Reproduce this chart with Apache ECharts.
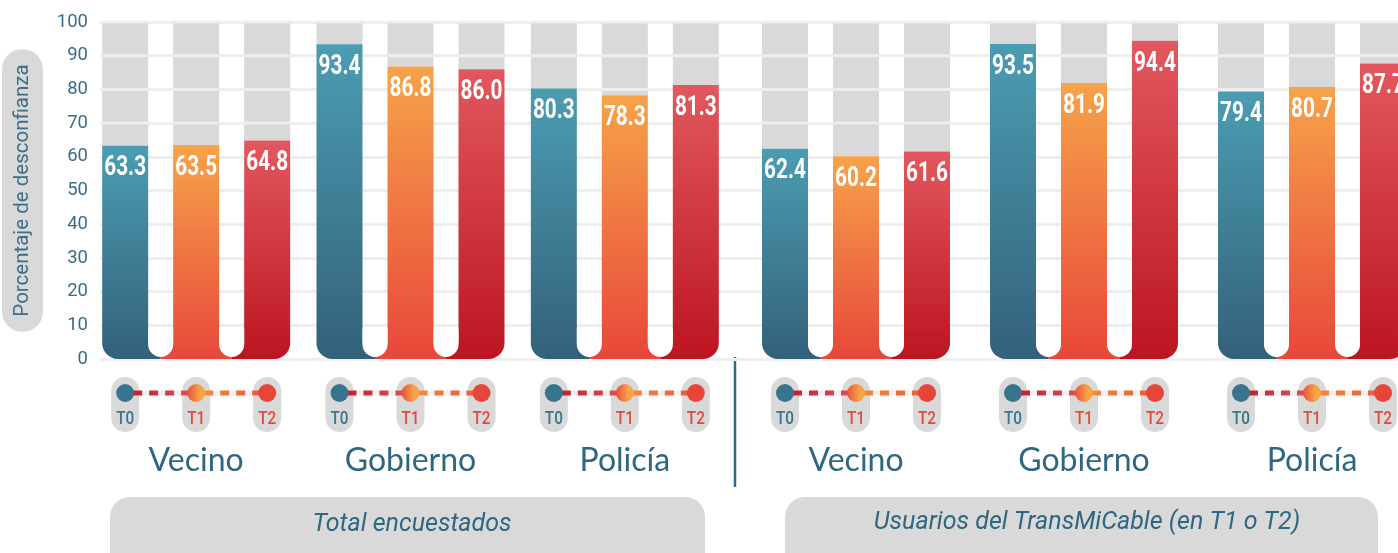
<!DOCTYPE html>
<html>
<head>
<meta charset="utf-8">
<script src="https://cdn.jsdelivr.net/npm/echarts@6/dist/echarts.min.js"></script>
<style>
html,body{margin:0;padding:0;background:#ffffff;}
#c{width:1398px;height:553px;}
</style>
</head>
<body>
<div id="c"></div>
<script>
// ---------- data ----------
const categories = ['Vecino', 'Gobierno', 'Policía'];
const periods = ['T0', 'T1', 'T2'];
const totalT0 = [63.3, 93.4, 80.3];
const totalT1 = [63.5, 86.8, 78.3];
const totalT2 = [64.8, 86.0, 81.3];
const usersT0 = [62.4, 93.5, 79.4];
const usersT1 = [60.2, 81.9, 80.7];
const usersT2 = [61.6, 94.4, 87.7];
const yTicks = [0, 10, 20, 30, 40, 50, 60, 70, 80, 90, 100];
const panelTitles = ['Total encuestados', 'Usuarios del TransMiCable (en T1 o T2)'];
const yAxisName = 'Porcentaje de desconfianza';

// ---------- styles ----------
const TRACK = '#d9d9d9';
const GRIDC = '#eeeeee';
const BAR_TOP = ['#4b9db2', '#f6a34a', '#e2585e'];
const BAR_BOTTOM = ['#33617a', '#e8473a', '#bc1521'];
const MARK_TEXT = ['#37758f', '#e44a3b', '#e5473b'];
const NAVY = '#2f6680';

function renderPanel(params, api) {
  const ci = api.value(0);
  const vals = [api.value(1), api.value(2), api.value(3)];
  const base = api.coord([ci, 0]);
  const cx = base[0], by = base[1];
  const yTop = api.coord([ci, yTicks[yTicks.length - 1]])[1];
  const W = 46, P = 71, R = 16, G = P - W;
  const xs = periods.map((p, k) => cx + (k - 1) * P);
  const ch = [];
  // grey tracks with grid lines over them
  vals.forEach((v, k) => {
    const vy = api.coord([ci, v])[1];
    ch.push({type: 'rect', shape: {x: xs[k] - W / 2, y: yTop, width: W, height: vy - yTop}, style: {fill: TRACK}});
    yTicks.forEach(t => {
      if (t > v) {
        const ty = api.coord([ci, t])[1];
        ch.push({type: 'line', shape: {x1: xs[k] - W / 2, y1: ty, x2: xs[k] + W / 2, y2: ty}, style: {stroke: GRIDC, lineWidth: 3}});
      }
    });
  });
  // bottom joins between bars
  for (let k = 0; k < 2; k++) {
    const gx = xs[k] + W / 2;
    ch.push({type: 'rect', shape: {x: gx - 1, y: by - R, width: G / 2 + 1, height: R}, style: {fill: BAR_BOTTOM[k]}});
    ch.push({type: 'rect', shape: {x: gx + G / 2, y: by - R, width: G / 2 + 1, height: R}, style: {fill: BAR_BOTTOM[k + 1]}});
  }
  // bars
  vals.forEach((v, k) => {
    const vy = api.coord([ci, v])[1];
    ch.push({
      type: 'rect',
      shape: {x: xs[k] - W / 2, y: vy, width: W, height: by - vy, r: k === 0 ? [0, 0, 0, R] : (k === 2 ? [0, 0, R, 0] : 0)},
      style: {fill: {type: 'linear', x: 0, y: 0, x2: 0, y2: 1, colorStops: [{offset: 0, color: BAR_TOP[k]}, {offset: 1, color: BAR_BOTTOM[k]}]}}
    });
  });
  // white rounded gaps
  for (let k = 0; k < 2; k++) {
    ch.push({type: 'rect', shape: {x: xs[k] + W / 2, y: by - 30, width: G, height: 28, r: [0, 0, G / 2, G / 2]}, style: {fill: '#ffffff'}});
  }
  // value labels (condensed look via horizontal scale)
  vals.forEach((v, k) => {
    const vy = api.coord([ci, v])[1];
    ch.push({type: 'text', x: xs[k], y: vy + 23, scaleX: 0.77,
      style: {text: v.toFixed(1), x: 0, y: 0, align: 'center', verticalAlign: 'middle',
        fill: '#ffffff', fontSize: 27, fontWeight: 'bold', fontFamily: 'Roboto'}});
  });
  // period markers below
  const cy = by + 34;
  periods.forEach((p, k) => {
    ch.push({type: 'rect', shape: {x: xs[k] - 14, y: by + 18, width: 28, height: 55, r: 14}, style: {fill: TRACK}});
  });
  const segColors = [
    [{offset: 0, color: '#c21d2a'}, {offset: 1, color: '#df4f55'}],
    [{offset: 0, color: '#f28a42'}, {offset: 1, color: '#ea5a3c'}]
  ];
  for (let k = 0; k < 2; k++) {
    ch.push({type: 'line', shape: {x1: xs[k] + 8, y1: cy, x2: xs[k + 1] - 8, y2: cy}, style: {stroke: '#efefef', lineWidth: 5}});
    ch.push({type: 'line', shape: {x1: xs[k] + 8, y1: cy, x2: xs[k + 1] - 8, y2: cy},
      style: {stroke: {type: 'linear', x: 0, y: 0, x2: 1, y2: 0, colorStops: segColors[k]}, lineWidth: 5, lineDash: [9, 7]}});
  }
  const circFill = [
    '#37758f',
    {type: 'linear', x: 0, y: 0, x2: 1, y2: 0, colorStops: [{offset: 0, color: '#e9503c'}, {offset: 0.7, color: '#f7a448'}, {offset: 1, color: '#f7a448'}]},
    '#e8453a'
  ];
  periods.forEach((p, k) => {
    ch.push({type: 'circle', shape: {cx: xs[k], cy: cy, r: 9}, style: {fill: circFill[k]}});
    ch.push({type: 'text', x: xs[k], y: by + 60, scaleX: 0.85,
      style: {text: p, x: 0, y: 0, align: 'center', verticalAlign: 'middle',
        fill: MARK_TEXT[k], fontSize: 18, fontWeight: 500, fontFamily: 'Roboto'}});
  });
  return {type: 'group', children: ch};
}

const catAxis = (gi) => ({
  gridIndex: gi, type: 'category', data: categories,
  axisLine: {show: false}, axisTick: {show: false}, splitLine: {show: false},
  axisLabel: {margin: 86, fontFamily: 'Lato', fontSize: 32, color: NAVY, lineHeight: 32}
});
const hiddenY = (gi) => ({gridIndex: gi, type: 'value', min: 0, max: 100, interval: 10, show: false, splitLine: {show: false}});

const chart = echarts.init(document.getElementById('c'), null, {renderer: 'canvas'});
chart.setOption({
  animation: false,
  backgroundColor: '#ffffff',
  grid: [
    {left: 100, width: 1298, top: 22, height: 337, containLabel: false, outerBoundsMode: 'none'},
    {left: 89, width: 643, top: 22, height: 337, containLabel: false, outerBoundsMode: 'none'},
    {left: 742, width: 684, top: 22, height: 337, containLabel: false, outerBoundsMode: 'none'}
  ],
  xAxis: [
    {gridIndex: 0, type: 'value', min: 0, max: 1, show: false},
    catAxis(1),
    catAxis(2)
  ],
  yAxis: [
    {
      gridIndex: 0, type: 'value', min: 0, max: 100, interval: 10,
      axisLine: {show: false}, axisTick: {show: false},
      axisLabel: {margin: 12, color: '#3b6d88', fontSize: 18.5, fontFamily: 'Roboto'},
      splitLine: {show: true, lineStyle: {color: GRIDC, width: 3}},
      name: yAxisName, nameLocation: 'middle', nameRotate: 90, nameGap: 57,
      nameTextStyle: {fontFamily: 'Roboto', fontSize: 20.5, color: '#3d6f89', backgroundColor: TRACK,
        borderRadius: 20, padding: [10, 15, 10, 15]}
    },
    hiddenY(1),
    hiddenY(2)
  ],
  graphic: [
    {type: 'line', shape: {x1: 735, y1: 357, x2: 735, y2: 487}, style: {stroke: '#2e6b82', lineWidth: 2.5}},
    {type: 'rect', shape: {x: 110, y: 497, width: 595, height: 90, r: 20}, style: {fill: TRACK}},
    {type: 'text', style: {text: panelTitles[0], x: 412, y: 525, align: 'center', verticalAlign: 'middle',
      fontFamily: 'Roboto', fontStyle: 'italic', fontSize: 25, fill: NAVY}},
    {type: 'rect', shape: {x: 785, y: 497, width: 593, height: 90, r: 20}, style: {fill: TRACK}},
    {type: 'text', style: {text: panelTitles[1], x: 1087, y: 523, align: 'center', verticalAlign: 'middle',
      fontFamily: 'Roboto', fontStyle: 'italic', fontSize: 25, fill: NAVY}}
  ],
  series: [
    {type: 'custom', xAxisIndex: 1, yAxisIndex: 1, renderItem: renderPanel, clip: false,
      encode: {x: 0, y: [1, 2, 3]},
      data: categories.map((c, i) => [i, totalT0[i], totalT1[i], totalT2[i]])},
    {type: 'custom', xAxisIndex: 2, yAxisIndex: 2, renderItem: renderPanel, clip: false,
      encode: {x: 0, y: [1, 2, 3]},
      data: categories.map((c, i) => [i, usersT0[i], usersT1[i], usersT2[i]])}
  ]
});
</script>
</body>
</html>
